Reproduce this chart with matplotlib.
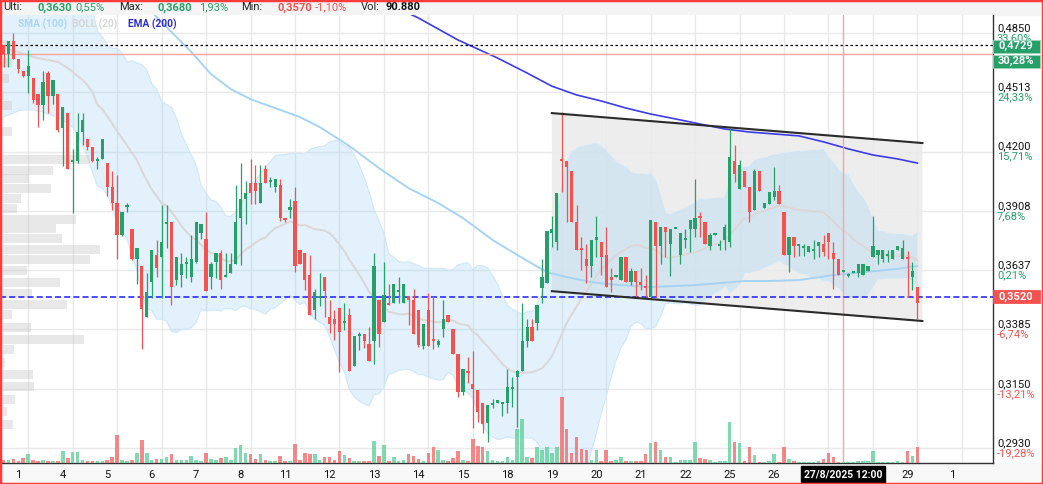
import numpy as np
import pandas as pd
import matplotlib
matplotlib.use("Agg")
import matplotlib.pyplot as plt
from matplotlib.patches import Rectangle, Polygon

plt.rcParams["font.family"] = ["Roboto", "DejaVu Sans"]

W, H = 1043, 484

# hourly candles, 31/7 15:00 -> 29/8
opens = [
    .4780, .4728, .4803, .4700, .4631, .4603, .4592, .4505, .4444, .4620,
    .4494, .4505, .4322, .4401, .4148, .4153, .4301, .4265, .4223, .4153,
    .4163, .4142, .4023, .3946, .3796, .3927, .3824, .3688, .3656, .3437,
    .3585, .3705, .3696, .3847, .3856, .3594, .3616, .3665, .3607, .3674,
    .3805, .3778, .3607, .3674, .3714, .3607, .3625, .3665, .3875, .3966,
    .4043, .4043, .3946, .4112, .4048, .4023, .4033, .3875, .3913, .3956,
    .3728, .3714, .3616, .3466, .3517, .3607, .3437, .3428, .3475, .3412,
    .3445, .3238, .3358, .3366, .3326, .3338, .3508, .3416, .3496, .3496,
    .3542, .3496, .3525, .3508, .3466, .3318, .3466, .3346, .3322, .3387,
    .3445, .3387, .3286, .3137, .3219, .3168, .3145, .3096, .3022, .3089,
    .3096, .3093, .3096, .3149, .3195, .3219, .3338, .3395, .3412, .3560,
    .3581, .3805, .3764, .4163, .4153, .4102, .3856, .3737, .3688, .3656,
    .3773, .3764, .3705, .3607, .3607, .3594, .3696, .3585, .3634, .3585,
    .3564, .3521, .3856, .3746, .3833, .3755, .3824, .3705, .3773, .3824,
    .3824, .3885, .3856, .3746, .3796, .3746, .3773, .3764, .4153, .4014,
    .4102, .4023, .3913, .4102, .3922, .3942, .3975, .4004, .3904, .3705,
    .3787, .3746, .3737, .3719, .3723, .3746, .3755, .3805, .3714, .3688,
    .3629, .3612, .3625, .3625, .3616, .3634, .3696, .3705, .3688, .3700,
    .3688, .3728, .3688, .3696, .3607, .3564,
]
highs = [
    .4780, .4803, .4850, .4700, .4631, .4751, .4592, .4505, .4631, .4631,
    .4581, .4505, .4433, .4401, .4213, .4401, .4401, .4265, .4223, .4173,
    .4265, .4142, .4102, .4083, .3904, .3946, .3824, .3737, .3656, .3625,
    .3728, .3773, .3937, .3937, .3856, .3696, .3714, .3696, .3796, .3856,
    .3847, .3904, .3674, .3714, .3728, .3714, .3714, .4033, .4142, .4053,
    .4163, .4132, .4132, .4132, .4073, .4063, .4063, .3875, .3966, .4023,
    .3728, .3714, .3705, .3555, .3625, .3607, .3508, .3466, .3475, .3496,
    .3475, .3358, .3375, .3366, .3395, .3714, .3508, .3674, .3577, .3577,
    .3607, .3577, .3525, .3555, .3466, .3408, .3538, .3525, .3346, .3508,
    .3445, .3387, .3286, .3227, .3274, .3298, .3145, .3096, .3089, .3111,
    .3107, .3100, .3227, .3195, .3223, .3496, .3428, .3428, .3487, .3688,
    .3814, .3885, .3994, .4407, .4153, .4102, .3937, .3787, .3755, .3773,
    .3885, .3764, .3833, .3647, .3616, .3696, .3696, .3647, .3634, .3647,
    .3616, .3866, .3856, .3833, .3833, .3824, .3824, .3805, .3824, .3866,
    .4063, .3904, .3856, .3805, .3805, .3773, .3847, .4322, .4234, .4158,
    .4102, .4023, .4112, .4102, .3946, .3999, .4122, .4033, .3904, .3787,
    .3787, .3755, .3755, .3746, .3773, .3764, .3796, .3805, .3764, .3688,
    .3634, .3625, .3629, .3665, .3665, .3656, .3885, .3728, .3728, .3728,
    .3728, .3746, .3773, .3723, .3674, .3564,
]
lows = [
    .4654, .4654, .4700, .4620, .4598, .4510, .4455, .4327, .4364, .4401,
    .4450, .4301, .4127, .4112, .3899, .4142, .4234, .4208, .4148, .4112,
    .4163, .3980, .3913, .3688, .3791, .3904, .3683, .3577, .3306, .3437,
    .3517, .3607, .3517, .3737, .3487, .3572, .3564, .3603, .3585, .3669,
    .3778, .3547, .3555, .3603, .3555, .3607, .3625, .3665, .3660, .3847,
    .3942, .3942, .3946, .4043, .4023, .3999, .3861, .3856, .3875, .3629,
    .3665, .3551, .3445, .3428, .3483, .3437, .3371, .3342, .3215, .3383,
    .3219, .3238, .3302, .3310, .3258, .3246, .3314, .3416, .3487, .3496,
    .3496, .3496, .3403, .3366, .3314, .3306, .3318, .3306, .3314, .3354,
    .3416, .3286, .3119, .3126, .3172, .3004, .3026, .2985, .2953, .3078,
    .3096, .3048, .3059, .3081, .3007, .3219, .3314, .3338, .3383, .3496,
    .3581, .3741, .3728, .3999, .3856, .3856, .3728, .3638, .3581, .3607,
    .3696, .3616, .3564, .3542, .3607, .3594, .3585, .3572, .3521, .3551,
    .3521, .3521, .3521, .3665, .3696, .3612, .3824, .3665, .3737, .3719,
    .3787, .3787, .3755, .3728, .3796, .3728, .3728, .3741, .4048, .4014,
    .4023, .3856, .3913, .4004, .3922, .3942, .3961, .3942, .3705, .3629,
    .3696, .3700, .3700, .3719, .3688, .3696, .3700, .3688, .3555, .3616,
    .3629, .3607, .3625, .3607, .3616, .3634, .3696, .3665, .3674, .3674,
    .3688, .3728, .3688, .3521, .3551, .3428,
]
closes = [
    .4728, .4803, .4700, .4643, .4603, .4660, .4471, .4444, .4570, .4494,
    .4581, .4312, .4433, .4112, .4158, .4301, .4364, .4223, .4153, .4163,
    .4265, .4023, .3946, .3796, .3904, .3937, .3688, .3737, .3470, .3542,
    .3728, .3647, .3764, .3856, .3564, .3696, .3665, .3674, .3688, .3856,
    .3847, .3547, .3665, .3714, .3594, .3616, .3665, .3856, .3966, .3994,
    .3994, .4004, .4043, .4043, .4058, .4063, .3875, .3866, .3927, .3656,
    .3665, .3594, .3445, .3542, .3525, .3547, .3408, .3408, .3375, .3420,
    .3219, .3358, .3366, .3338, .3258, .3656, .3366, .3530, .3487, .3577,
    .3551, .3577, .3508, .3366, .3322, .3408, .3318, .3338, .3338, .3428,
    .3416, .3286, .3137, .3227, .3211, .3149, .3063, .3018, .3089, .3096,
    .3107, .3100, .3156, .3156, .3219, .3338, .3395, .3338, .3487, .3607,
    .3814, .3824, .3994, .4153, .4122, .3856, .3728, .3728, .3656, .3773,
    .3787, .3696, .3564, .3594, .3616, .3696, .3585, .3634, .3585, .3572,
    .3560, .3866, .3746, .3833, .3810, .3824, .3824, .3805, .3783, .3866,
    .3875, .3875, .3755, .3796, .3805, .3755, .3833, .4173, .4088, .4132,
    .4023, .3904, .4102, .4004, .3946, .3999, .4004, .3942, .3705, .3787,
    .3746, .3755, .3741, .3746, .3732, .3764, .3719, .3764, .3688, .3616,
    .3634, .3621, .3629, .3665, .3665, .3656, .3746, .3728, .3728, .3709,
    .3728, .3746, .3737, .3688, .3634, .3496,
]
vol_k = [
    3, 3, 4, 2, 5, 9, 3, 2, 3, 2,
    2, 2, 12, 5, 11, 11, 3, 2, 2, 2,
    2, 3, 6, 28, 3, 2, 3, 10, 23, 10,
    3, 4, 4, 6, 9, 3, 3, 3, 7, 3,
    2, 10, 4, 3, 5, 6, 3, 15, 18, 10,
    9, 4, 9, 3, 2, 2, 7, 2, 2, 19,
    3, 10, 9, 9, 3, 6, 6, 3, 12, 8,
    5, 2, 2, 2, 2, 22, 7, 18, 2, 6,
    2, 3, 9, 7, 4, 2, 10, 16, 13, 3,
    2, 5, 12, 3, 2, 24, 17, 16, 12, 3,
    2, 2, 6, 3, 34, 44, 6, 5, 16, 13,
    16, 10, 16, 66, 34, 10, 26, 14, 13, 3,
    13, 2, 13, 2, 3, 6, 2, 2, 2, 2,
    9, 20, 21, 13, 6, 6, 1, 3, 3, 3,
    21, 5, 4, 3, 1, 2, 2, 41, 21, 20,
    2, 16, 8, 1, 1, 2, 9, 1, 16, 4,
    2, 1, 1, 1, 1, 2, 4, 10, 6, 1,
    1, 1, 1, 2, 2, 2, 12, 1, 1, 1,
    1, 2, 1, 12, 7, 16,
]

# session labels on the x axis (first candle of each day)
day_idx = [3 + 9 * k for k in range(22)]
day_labels = ["1", "4", "5", "6", "7", "8", "11", "12", "13", "14", "15",
              "18", "19", "20", "21", "22", "25", "26", "", "", "29", "1"]

# price scale
grid_prices = [0.4850, 0.4513, 0.4200, 0.3908, 0.3637, 0.3385, 0.3150, 0.2930]
pct_labels = ["33,60%", "24,33%", "15,71%", "7,68%", "0,21%", "-6,74%", "-13,21%", "-19,28%"]

# BOLL(20) before 20 candles of history are on screen
boll_up_head = [.5350, .5340, .5330, .5320, .5310, .5300, .5280, .5260, .5240, .5220,
                .5200, .5180, .5160, .5140, .5110, .5080, .5050, .5020, .4990]
boll_mid_head = [.4763, .4751, .4746, .4740, .4729, .4723, .4711, .4705, .4700, .4694,
                 .4688, .4683, .4666, .4648, .4626, .4603, .4581, .4553, .4515]
boll_lo_head = [.4380, .4391, .4401, .4413, .4418, .4418, .4418, .4413, .4407, .4396,
                .4386, .4375, .4364, .4348, .4327, .4286, .4234, .4173, .4097]

sma_idx = [30, 38, 42, 46, 50, 56, 60, 64, 70, 76, 82, 88, 93, 99, 105, 110, 113,
           119, 125, 131, 140, 150, 155, 161, 168, 174, 181, 185]
sma_val = [.4975, .4740, .4614, .4531, .4476, .4418, .4380, .4327, .4229, .4117,
           .4018, .3946, .3875, .3773, .3692, .3629, .3612, .3585, .3572, .3564,
           .3572, .3590, .3590, .3594, .3616, .3629, .3643, .3656]
ema_idx = [81, 84, 92, 100, 106, 111, 116, 121, 126, 131, 136, 141, 146, 151, 156,
           161, 166, 171, 176, 181, 185]
ema_val = [.4981, .4939, .4809, .4705, .4620, .4547, .4499, .4466, .4428, .4396,
           .4370, .4343, .4317, .4301, .4291, .4281, .4250, .4214, .4183, .4163, .4142]

# drawn channel
chan_idx = [111, 186]
chan_top = [.4401, .4244]
chan_bot = [.3546, .3420]

# volume profile (price level, relative volume)
vp_price = [.4780, .4677, .4592, .4494, .4439, .4306, .4158, .4107, .4063, .4014,
            .3966, .3918, .3870, .3824, .3778, .3728, .3683, .3634, .3585, .3538,
            .3491, .3445, .3395, .3346, .3302, .3254, .3207, .3157, .3111, .3063, .3015]
vp_vol = [8, 12, 9, 4, 12, 12, 90, 53, 29, 51, 21, 17, 76, 56, 62, 100, 90, 27, 60,
          32, 67, 12, 31, 84, 14, 5, 33, 34, 15, 7, 13]

level_dotted = 0.4780
level_alert = 0.4729
level_line = 0.3520
cross_idx = 170

GREEN = "#26a069"
RED = "#f5514f"

o = np.array(opens); hi = np.array(highs); lo = np.array(lows); c = np.array(closes)
n = len(c)
idx = np.arange(n)
up = c >= o
col = np.where(up, GREEN, RED)

s = pd.Series(c)
mid = s.rolling(20).mean().to_numpy()
sd = s.rolling(20).std(ddof=0).to_numpy()
upper = mid + 2 * sd
lower = mid - 2 * sd
mid[:19] = boll_mid_head
upper[:19] = boll_up_head
lower[:19] = boll_lo_head

fig = plt.figure(figsize=(W / 100, H / 100), dpi=100)
fig.patches.append(Rectangle((0, 1 - 15 / H), 1, 15 / H, transform=fig.transFigure,
                             color="#f4f4f4", zorder=-2))
fig.patches.append(Rectangle((0, 0), 1, 21 / H, transform=fig.transFigure,
                             color="#f8f8f8", zorder=-2))

ax = fig.add_axes([0, 21 / H, 993 / W, 448 / H])
ax.set_yscale("log")
ax.set_xlim(-0.71, 200.3)
ax.set_ylim(0.28789, 0.49570)
ax.autoscale(False)

for p in grid_prices:
    ax.axhline(p, color="#e9e9e9", lw=1, zorder=0.5)
for k in range(22):
    ax.axvline(5 + 9 * k, color="#e9e9e9", lw=1, zorder=0.5)

# channel drawing
ax.add_patch(Polygon([(chan_idx[0], chan_top[0]), (chan_idx[1], chan_top[1]),
                      (chan_idx[1], chan_bot[1]), (chan_idx[0], chan_bot[0])],
                     closed=True, fc="#ebebeb", ec="none", alpha=0.9, zorder=1))

# bollinger
ax.fill_between(idx, lower, upper, color="#9fd3f5", alpha=0.3, lw=0, zorder=2)
ax.plot(idx, upper, color="#cfe7f8", lw=0.8, zorder=2.1)
ax.plot(idx, lower, color="#cfe7f8", lw=0.8, zorder=2.1)
ax.plot(idx, mid, color="#dcd6d6", lw=1.4, zorder=2.2)

# volume profile
vp = np.array(vp_price)
half = np.exp(0.001213 * 4.5)
ax.barh(vp / half, np.array(vp_vol) / max(vp_vol) * (100 / 993), height=vp * half - vp / half,
        left=0, align="edge", transform=ax.get_yaxis_transform(),
        color="#cccccc", alpha=0.45, lw=0, zorder=2.5)

# volume bars
vcol = np.where(up, "#5fd39b", "#f46a6a")
ax.bar(idx, np.array(vol_k) / max(vol_k) * (66 / 448), width=0.72, bottom=0,
       transform=ax.get_xaxis_transform(), color=vcol, alpha=0.8, lw=0, zorder=3)

# moving averages
ax.plot(sma_idx, sma_val, color="#a6d3f4", lw=1.4, zorder=4)
ax.plot(ema_idx, ema_val, color="#3b3be8", lw=1.2, zorder=4)

# levels
ax.axhline(level_dotted, color="black", lw=0.9, ls=(0, (2, 2)), zorder=4)
ax.axhline(level_alert, color="#f6a3a3", lw=1.0, zorder=4)
ax.axhline(level_line, color="#1a1aff", lw=1.1, ls=(0, (4, 2)), zorder=4.5)
ax.axvline(cross_idx, color="#f4a6a6", lw=1.0, zorder=4)

# channel borders
ax.plot(chan_idx, chan_top, color="#2b2b2b", lw=1.5, zorder=6)
ax.plot(chan_idx, chan_bot, color="#2b2b2b", lw=1.5, zorder=6)

# candles
body_lo = np.minimum(o, c)
body_h = np.maximum(np.abs(c - o), body_lo * 0.0022)
ax.vlines(idx, lo, hi, colors=col, lw=0.9, zorder=5)
ax.bar(idx, body_h, bottom=body_lo, width=0.66, color=col, lw=0, zorder=5.5)

ax.set_ylim(0.28789, 0.49570)
ax.set_xlim(-0.71, 200.3)

# axes styling
ax.set_yticks([])
ax.set_yticks([], minor=True)
ax.set_xticks(day_idx)
ax.set_xticklabels(day_labels, fontsize=8, color="#111111")
ax.tick_params(axis="x", length=0, pad=5)
for side in ("left", "top"):
    ax.spines[side].set_visible(False)
for side in ("right", "bottom"):
    ax.spines[side].set_color("#333333")
    ax.spines[side].set_linewidth(1)

ytr = ax.get_yaxis_transform()
for p, pct in zip(grid_prices, pct_labels):
    ax.text(1.004, p, f"{p:.4f}".replace(".", ","), transform=ytr, ha="left", va="bottom",
            fontsize=8, color="#111111", clip_on=False)
    ax.text(1.004, p, pct, transform=ytr, ha="left", va="top", fontsize=8,
            color=RED if pct.startswith("-") else GREEN, clip_on=False)


def ypix(price):
    return ax.transData.transform((0, price))[1]


def side_box(ytop_px, label, fc):
    fig.patches.append(Rectangle((993 / W, (ytop_px - 13) / H), 47 / W, 13 / H,
                                 transform=fig.transFigure, fc=fc, ec="#9fd6bb" if fc == GREEN else fc,
                                 lw=0.6, zorder=5))
    fig.text(1016 / W, (ytop_px - 6.5) / H, label, ha="center", va="center", fontsize=8,
             fontweight="bold", color="white", zorder=6)


ya = ypix(level_alert)
side_box(ya + 14, "0,4729", GREEN)
side_box(ya - 1, "30,28%", GREEN)
yl = ypix(level_line)
side_box(yl + 7, "0,3520", RED)

# crosshair date label
fig.text(843 / W, 1 - 474 / H, "27/8/2025 12:00", ha="center", va="center", fontsize=7.5,
         fontweight="bold", color="white", zorder=7,
         bbox=dict(boxstyle="square,pad=0.25", fc="black", ec="black"))

# header
header = [("Ulti:", 3, "#222222", "normal"), ("0,3630", 37, GREEN, "bold"),
          ("0,55%", 75, GREEN, "normal"), ("Max:", 119, "#222222", "normal"),
          ("0,3680", 157, GREEN, "bold"), ("1,93%", 199, GREEN, "normal"),
          ("Min:", 241, "#222222", "normal"), ("0,3570", 277, RED, "bold"),
          ("-1,10%", 315, RED, "normal"), ("Vol:", 361, "#222222", "normal"),
          ("90.880", 385, "#111111", "bold")]
for txt, x, colr, wt in header:
    fig.text(x / W, 1 - 7.5 / H, txt, ha="left", va="center", fontsize=8,
             color=colr, fontweight=wt)

legend = [("SMA (100)", 18, "#a9d5f5"), ("BOLL (20)", 72, "#d6d6d6"), ("EMA (200)", 128, "#2b2bd6")]
for txt, x, colr in legend:
    fig.text(x / W, 1 - 24 / H, txt, ha="left", va="center", fontsize=7.3,
             color=colr, fontweight="bold")

fig.patches.append(Rectangle((0, 0), 1, 1, transform=fig.transFigure, fill=False,
                             ec="#ff3b3b", lw=2.5, zorder=10))

fig.savefig("out.png", dpi=100)
plt.close(fig)
